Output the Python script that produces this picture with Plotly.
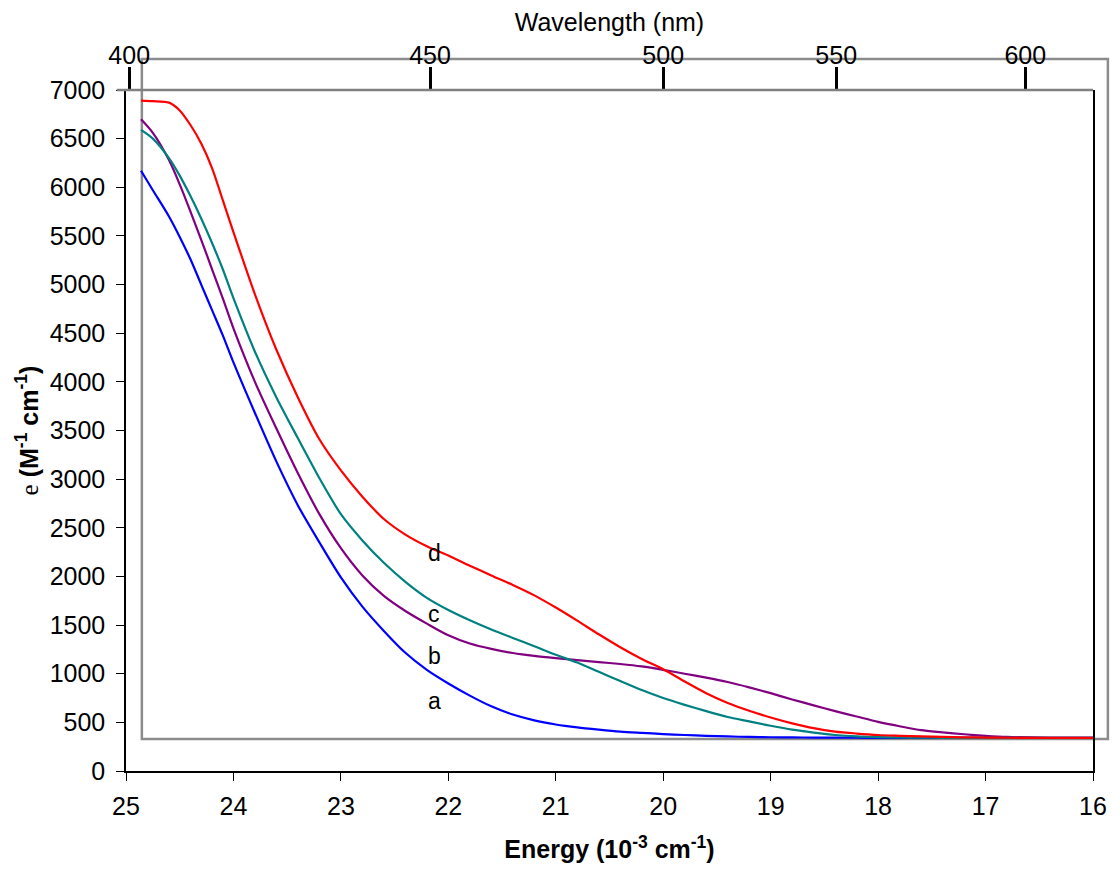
import plotly.graph_objects as go

# Energy grid (10^3 cm^-1)
energy = [24.86, 24.75, 24.6, 24.5, 24.4, 24.3, 24.2, 24.1, 24.0, 23.8, 23.6, 23.4, 23.2, 23.0,
          22.8, 22.6, 22.4, 22.2, 22.0, 21.8, 21.6, 21.4, 21.2, 21.0, 20.8, 20.6, 20.4, 20.2,
          20.0, 19.8, 19.6, 19.4, 19.2, 19.0, 18.8, 18.6, 18.4, 18.2, 18.0, 17.8, 17.6, 17.4,
          17.2, 17.0, 16.8, 16.6, 16.4, 16.2, 16.0]

eps_a = [6170, 5970, 5700, 5490, 5260, 5000, 4740, 4480, 4200, 3680, 3180, 2730, 2350, 1990,
         1690, 1440, 1215, 1040, 900, 775, 665, 580, 520, 478, 448, 425, 405, 392,
         380, 370, 362, 355, 350, 347, 345, 344, 343, 342, 341, 341, 340, 340,
         340, 340, 340, 340, 340, 340, 340]

eps_b = [6700, 6560, 6280, 6030, 5750, 5460, 5160, 4860, 4550, 4000, 3520, 3060, 2640, 2290,
         2010, 1800, 1645, 1515, 1395, 1310, 1255, 1213, 1183, 1160, 1140, 1120, 1100, 1075,
         1040, 1000, 960, 915, 860, 800, 735, 675, 615, 560, 505, 460, 420, 398,
         378, 362, 350, 345, 342, 341, 340]

eps_c = [6590, 6500, 6300, 6120, 5910, 5680, 5430, 5160, 4860, 4310, 3840, 3420, 3010, 2640,
         2370, 2140, 1945, 1780, 1655, 1550, 1455, 1368, 1283, 1195, 1115, 1020, 925, 832,
         750, 680, 615, 555, 510, 465, 425, 395, 370, 355, 348, 345, 343, 341,
         340, 340, 340, 340, 340, 340, 340]

eps_d = [6890, 6885, 6870, 6790, 6640, 6450, 6200, 5870, 5540, 4900, 4330, 3840, 3410, 3090,
         2820, 2590, 2430, 2310, 2215, 2110, 2010, 1912, 1805, 1680, 1545, 1405, 1272, 1152,
         1045, 920, 800, 700, 620, 550, 490, 440, 405, 385, 370, 362, 355, 350,
         346, 344, 342, 341, 340, 340, 340]

series_names = ["a", "b", "c", "d"]
series_colors = ["#0000FF", "#800080", "#008080", "#FF0000"]

# Top (wavelength) axis: labels and their positions on the energy scale as drawn
wl_labels = ["400", "450", "500", "550", "600"]
wl_energy = [24.97, 22.17, 20.0, 18.39, 16.63]

x_ticks = [25, 24, 23, 22, 21, 20, 19, 18, 17, 16]
y_ticks = list(range(0, 7001, 500))

FONT = "Arial, Liberation Sans, sans-serif"
FS = 25

fig = go.Figure()
for name, vals, col in zip(series_names, [eps_a, eps_b, eps_c, eps_d], series_colors):
    fig.add_trace(go.Scatter(x=energy, y=vals, mode="lines", name=name,
                             line=dict(color=col, width=2.2, shape="spline", smoothing=0.8),
                             showlegend=False, hoverinfo="skip"))
# dummy trace to activate the top axis
fig.add_trace(go.Scatter(x=[None], y=[None], xaxis="x2", showlegend=False, hoverinfo="skip"))

# curve labels
label_pos = {"d": 2240, "c": 1614, "b": 1182, "a": 719}
for name in series_names:
    fig.add_annotation(x=22.13, y=label_pos[name], text=name, showarrow=False,
                       font=dict(family=FONT, size=23, color="black"))

fig.update_layout(
    width=1119, height=873,
    margin=dict(l=126, r=18, t=90, b=102),
    paper_bgcolor="white", plot_bgcolor="white",
    font=dict(family=FONT, size=FS, color="black"),
    xaxis=dict(range=[25, 16], tickvals=x_ticks, ticks="outside", ticklen=8,
               tickcolor="black", showline=True, linecolor="black", linewidth=1.5,
               showgrid=False, zeroline=False, ticklabelstandoff=4,
               tickfont=dict(size=FS),
               title=dict(text="<b>Energy (10<sup>-3</sup> cm<sup>-1</sup>)</b>",
                          font=dict(size=FS), standoff=22)),
    xaxis2=dict(overlaying="x", side="top", anchor="y", range=[25, 16],
                tickvals=wl_energy, ticktext=wl_labels, ticks="outside", ticklen=22,
                tickwidth=3, tickcolor="black", showline=False, showgrid=False,
                zeroline=False, tickfont=dict(size=FS), ticklabelstandoff=-7,
                title=dict(text="Wavelength (nm)", font=dict(size=FS), standoff=2)),
    yaxis=dict(range=[0, 7000], tickvals=y_ticks, ticks="outside", ticklen=8,
               tickcolor="black", showline=True, linecolor="black", linewidth=1.5,
               mirror=True, showgrid=False, zeroline=False, ticklabelstandoff=6,
               tickfont=dict(size=FS),
               title=dict(text="<span style='font-family:Liberation Serif, Times New Roman, serif'>e</span> <b>(M<sup>-1</sup> cm<sup>-1</sup>)</b>",
                          font=dict(size=FS), standoff=4)),
)

# gray top frame line
fig.add_shape(type="line", xref="paper", yref="paper", x0=-0.0095, x1=1, y0=1, y1=1,
              line=dict(color="#808080", width=2.5))
# gray overlay box
fig.add_shape(type="rect", xref="paper", yref="paper", x0=0.0164, x1=1.0154,
              y0=0.047, y1=1.0455, line=dict(color="#8c8c8c", width=2.5),
              fillcolor="rgba(0,0,0,0)", layer="below")

fig.write_html("out.html")
